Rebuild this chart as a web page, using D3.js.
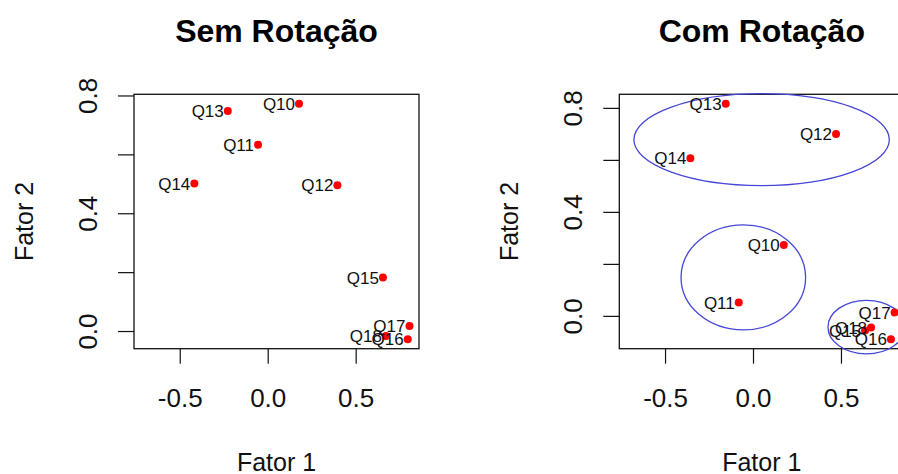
<!DOCTYPE html>
<html>
<head>
<meta charset="utf-8">
<script src="https://cdn.jsdelivr.net/npm/d3@7"></script>
<style>
  html, body { margin: 0; padding: 0; background: #fff; }
  svg { display: block; font-family: "Liberation Sans", Arial, sans-serif; }
</style>
</head>
<body>
<svg id="chart" width="898" height="474"></svg>
<script>
// Item names shared by both loading plots
const items = ["Q10", "Q11", "Q12", "Q13", "Q14", "Q15", "Q16", "Q17", "Q18"];

// Loadings without rotation
const semFator1 = [0.178, -0.055, 0.396, -0.227, -0.417, 0.655, 0.796, 0.806, 0.672];
const semFator2 = [0.772, 0.633, 0.495, 0.747, 0.501, 0.182, -0.028, 0.017, -0.017];

// Loadings after rotation
const comFator1 = [0.175, -0.081, 0.472, -0.155, -0.356, 0.637, 0.784, 0.805, 0.671];
const comFator2 = [0.273, 0.051, 0.700, 0.816, 0.606, -0.056, -0.090, 0.013, -0.045];

// Group ellipses on the rotated plot: centre and semi-axes in loading units
const ellipseCx = [0.049, -0.055, 0.645];
const ellipseCy = [0.678, 0.148, -0.043];
const ellipseRx = [0.726, 0.354, 0.219];
const ellipseRy = [0.177, 0.202, 0.103];

// Axis ticks and labels
const xLimits = [-0.7, 0.8];
const xTicks = [-0.5, 0.0, 0.5];
const xTickLabels = ["-0.5", "0.0", "0.5"];
const yTicks = [0.0, 0.2, 0.4, 0.6, 0.8];
const yTickLabels = ["0.0", "", "0.4", "", "0.8"];

const titles = ["Sem Rotação", "Com Rotação"];
const xTitle = "Fator 1";
const yTitle = "Fator 2";

const svg = d3.select("#chart");

// Extend a range by 4% on both sides, as base graphics does
function padded(lo, hi) {
  const p = (hi - lo) * 0.04;
  return [lo - p, hi + p];
}

function drawPanel(opts) {
  const { left, top, width, height, f1, f2, title, ellipses } = opts;
  const g = svg.append("g").attr("transform", `translate(${left},${top})`);

  const x = d3.scaleLinear().domain(padded(xLimits[0], xLimits[1])).range([0, width]);
  const y = d3.scaleLinear().domain(padded(d3.min(f2), d3.max(f2))).range([height, 0]);

  // x axis
  const xa = g.append("g")
    .attr("transform", `translate(0,${height})`)
    .call(d3.axisBottom(x).tickValues(xTicks).tickSize(15)
      .tickFormat((d, i) => xTickLabels[i]));
  xa.select(".domain").remove();
  xa.selectAll(".tick line").attr("stroke", "#111").attr("stroke-width", 1.2);
  xa.selectAll(".tick text")
    .attr("y", 58).attr("dy", null)
    .attr("fill", "#111")
    .style("font-size", "26px");

  // y axis with rotated labels
  const ya = g.append("g")
    .call(d3.axisLeft(y).tickValues(yTicks).tickSize(16)
      .tickFormat((d, i) => yTickLabels[i]));
  ya.select(".domain").remove();
  ya.selectAll(".tick line").attr("stroke", "#111").attr("stroke-width", 1.2);
  ya.selectAll(".tick text")
    .attr("x", 0).attr("y", -37).attr("dy", null)
    .attr("transform", "rotate(-90)")
    .attr("text-anchor", "middle")
    .attr("fill", "#111")
    .style("font-size", "26px");

  // plot frame
  g.append("rect")
    .attr("x", 0).attr("y", 0).attr("width", width).attr("height", height)
    .attr("fill", "none").attr("stroke", "#111").attr("stroke-width", 1.3);

  // ellipses
  if (ellipses) {
    ellipseCx.forEach((cx, i) => {
      g.append("ellipse")
        .attr("cx", x(cx)).attr("cy", y(ellipseCy[i]))
        .attr("rx", x(ellipseRx[i]) - x(0))
        .attr("ry", y(0) - y(ellipseRy[i]))
        .attr("fill", "none")
        .attr("stroke", "#4646d8")
        .attr("stroke-width", 1.3);
    });
  }

  // points
  g.selectAll("circle.pt").data(items).join("circle")
    .attr("class", "pt")
    .attr("cx", (d, i) => x(f1[i]))
    .attr("cy", (d, i) => y(f2[i]))
    .attr("r", 4)
    .attr("fill", "#ff0000");

  // item labels to the left of each point
  g.selectAll("text.lbl").data(items).join("text")
    .attr("class", "lbl")
    .attr("x", (d, i) => x(f1[i]) - 4)
    .attr("y", (d, i) => y(f2[i]))
    .attr("dy", "0.36em")
    .attr("text-anchor", "end")
    .attr("fill", "#111")
    .style("font-size", "17px")
    .text(d => d);

  // titles
  g.append("text")
    .attr("x", width / 2).attr("y", 41.7 - top)
    .attr("text-anchor", "middle")
    .attr("font-weight", "bold")
    .style("font-size", "32px")
    .attr("fill", "#000")
    .text(title);

  g.append("text")
    .attr("x", width / 2).attr("y", 471 - top)
    .attr("text-anchor", "middle")
    .style("font-size", "25px")
    .attr("fill", "#111")
    .text(xTitle);

  g.append("text")
    .attr("transform", `translate(-101,${height / 2}) rotate(-90)`)
    .attr("text-anchor", "middle")
    .style("font-size", "25px")
    .attr("fill", "#111")
    .text(yTitle);
}

drawPanel({ left: 134, top: 94.3, width: 285, height: 254.4,
  f1: semFator1, f2: semFator2, title: titles[0], ellipses: false });
drawPanel({ left: 619.3, top: 94.3, width: 285, height: 254.4,
  f1: comFator1, f2: comFator2, title: titles[1], ellipses: true });
</script>
</body>
</html>
